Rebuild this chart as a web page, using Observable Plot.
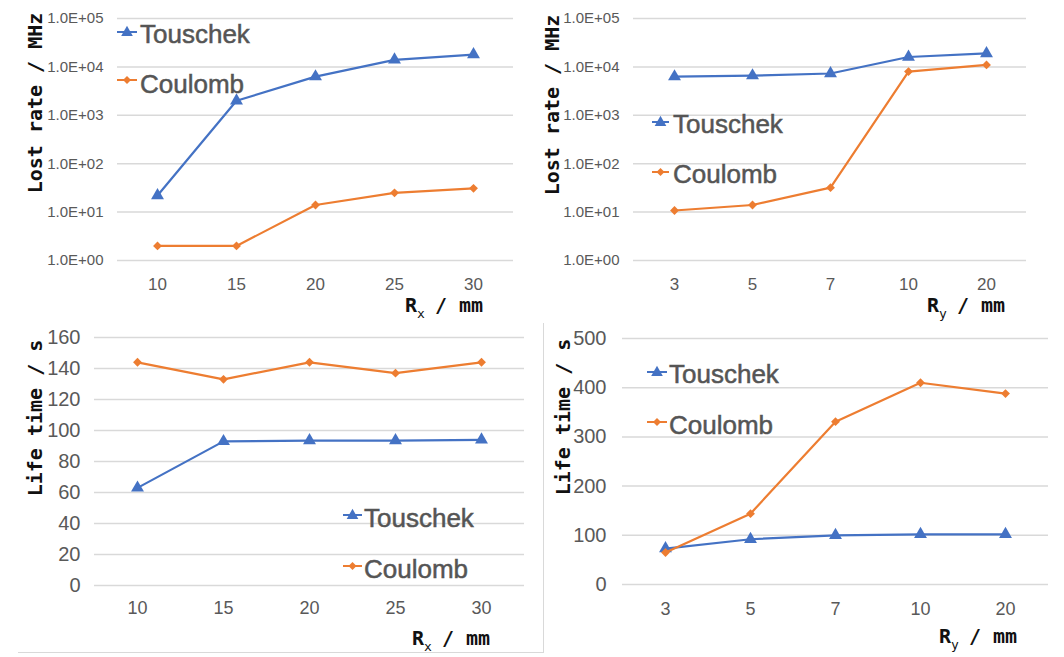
<!DOCTYPE html>
<html>
<head>
<meta charset="utf-8">
<script src="https://cdn.jsdelivr.net/npm/d3@7"></script>
<script src="https://cdn.jsdelivr.net/npm/@observablehq/plot@0.6"></script>
<style>
  html, body { margin: 0; padding: 0; background: #fff; }
  #wrap { position: relative; width: 1064px; height: 657px; overflow: hidden; background: #fff; }
  #wrap > svg { position: absolute; }
  #overlay { position: absolute; left: 0; top: 0; pointer-events: none; }
  .leg { font-family: 'Liberation Sans', Arial, Helvetica, sans-serif; font-size: 26px; fill: #555; stroke: #555; stroke-width: 0.5px; }
  .ttl { font-family: 'DejaVu Sans Mono', monospace; font-weight: bold; font-size: 20px; fill: #111; }
</style>
</head>
<body>
<div id="wrap"></div>
<script>
// ---- data ----
const rxCats = ["10", "15", "20", "25", "30"];
const ryCats = ["3", "5", "7", "10", "20"];

const lostRxTouschek = [22, 2000, 6300, 14000, 18000];
const lostRxCoulomb  = [2.0, 2.0, 14, 25, 31];
const lostRyTouschek = [6300, 6600, 7300, 16000, 19000];
const lostRyCoulomb  = [10.8, 14, 32, 8000, 11000];

const lifeRxTouschek = [63, 93, 93.5, 93.5, 94];
const lifeRxCoulomb  = [144, 133, 144, 137, 144];
const lifeRyTouschek = [73, 92, 100, 102, 102];
const lifeRyCoulomb  = [65, 144, 331, 410, 388];

const logTicks = [1, 10, 100, 1000, 10000, 100000];
const lifeRxTicks = [0, 20, 40, 60, 80, 100, 120, 140, 160];
const lifeRyTicks = [0, 100, 200, 300, 400, 500];

const seriesNames = ["Touschek", "Coulomb"];
const seriesColors = ["#4472C4", "#ED7D31"];
const seriesSymbols = ["triangle", "diamond2"];

// ---- helpers ----
const fontUI = "'Liberation Sans', Arial, Helvetica, sans-serif";
const eFmt = d => "1.0E+" + String(Math.round(Math.log10(d))).padStart(2, "0");

function rows(cats, vals) { return cats.map((c, i) => ({x: c, v: vals[i]})); }

function panel(o) {
  const marks = [
    Plot.gridY(o.ticks, {stroke: "#d9d9d9", strokeOpacity: 1, strokeWidth: 1.5}),
    Plot.axisY(o.ticks, {tickSize: 0, tickPadding: o.yPad, fontSize: o.yFont, fill: "#595959", tickFormat: o.fmt, label: null}),
    Plot.axisX({tickSize: 0, tickPadding: o.xPad, fontSize: o.xFont, fill: "#595959", label: null})
  ];
  o.series.forEach((vals, i) => {
    const data = rows(o.cats, vals);
    marks.push(Plot.line(data, {x: "x", y: "v", stroke: seriesColors[i], strokeWidth: 2.2}));
    marks.push(Plot.dot(data, {x: "x", y: "v", fill: seriesColors[i], stroke: "none", symbol: seriesSymbols[i], r: i === 0 ? 4.8 : 4}));
  });
  const svg = Plot.plot({
    width: o.width, height: o.height,
    marginLeft: o.m[0], marginRight: o.m[1], marginTop: o.m[2], marginBottom: o.m[3],
    style: {fontFamily: fontUI, background: "transparent", overflow: "visible"},
    x: {type: "point", domain: o.cats, padding: 0.5, label: null},
    y: {type: o.yType, domain: o.domain, label: null},
    marks
  });
  svg.style.left = o.left + "px";
  svg.style.top = o.top + "px";
  document.getElementById("wrap").appendChild(svg);
}

panel({left: 0, top: 0, width: 530, height: 320, m: [117, 17, 18, 60],
  cats: rxCats, series: [lostRxTouschek, lostRxCoulomb], yType: "log", domain: [1, 100000],
  ticks: logTicks, fmt: eFmt, yFont: 15, yPad: 14, xFont: 17, xPad: 17});
panel({left: 530, top: 0, width: 534, height: 320, m: [103, 38, 18, 60],
  cats: ryCats, series: [lostRyTouschek, lostRyCoulomb], yType: "log", domain: [1, 100000],
  ticks: logTicks, fmt: eFmt, yFont: 15, yPad: 14, xFont: 17, xPad: 17});
panel({left: 0, top: 320, width: 530, height: 337, m: [94, 6, 17, 72],
  cats: rxCats, series: [lifeRxTouschek, lifeRxCoulomb], yType: "linear", domain: [0, 160],
  ticks: lifeRxTicks, fmt: d => String(d), yFont: 20, yPad: 14, xFont: 18, xPad: 16});
panel({left: 530, top: 320, width: 534, height: 337, m: [92, 16, 18, 73],
  cats: ryCats, series: [lifeRyTouschek, lifeRyCoulomb], yType: "linear", domain: [0, 500],
  ticks: lifeRyTicks, fmt: d => String(d), yFont: 20, yPad: 16, xFont: 18, xPad: 18});

// ---- overlay: legends, axis titles, chart borders ----
const NS = "http://www.w3.org/2000/svg";
const ov = document.createElementNS(NS, "svg");
ov.setAttribute("id", "overlay");
ov.setAttribute("width", 1064);
ov.setAttribute("height", 657);
document.getElementById("wrap").appendChild(ov);
function el(tag, attrs, text) {
  const e = document.createElementNS(NS, tag);
  for (const k in attrs) e.setAttribute(k, attrs[k]);
  if (text != null) e.textContent = text;
  ov.appendChild(e);
  return e;
}
// borders
el("line", {x1: 18, y1: 652.5, x2: 543, y2: 652.5, stroke: "#d9d9d9", "stroke-width": 1});
el("line", {x1: 543.5, y1: 323, x2: 543.5, y2: 653, stroke: "#d9d9d9", "stroke-width": 1});

// legends: [x0, x1, glyphY, textX, baselineY] per series per panel
const legendSpots = [
  [[117, 137, 32, 140, 43], [117, 137, 80, 140, 93]],
  [[652, 669, 122, 673, 133], [652, 669, 172, 673, 183]],
  [[343, 362, 515, 364, 527], [343, 362, 566, 364, 578]],
  [[647, 667, 372, 669, 383], [647, 667, 422, 669, 434]]
];
const tri = (cx, cy, s) => `M${cx},${cy - s * 0.62}L${cx + s * 0.58},${cy + s * 0.4}L${cx - s * 0.58},${cy + s * 0.4}Z`;
const dia = (cx, cy, s) => `M${cx},${cy - s}L${cx + s},${cy}L${cx},${cy + s}L${cx - s},${cy}Z`;
legendSpots.forEach(p => p.forEach((s, i) => {
  const [x0, x1, gy, tx, by] = s;
  el("line", {x1: x0, y1: gy, x2: x1, y2: gy, stroke: seriesColors[i], "stroke-width": 2});
  const cx = (x0 + x1) / 2;
  el("path", {d: i === 0 ? tri(cx, gy, 10) : dia(cx, gy, 4), fill: seriesColors[i]});
  el("text", {x: tx, y: by, class: "leg"}, seriesNames[i]);
}));

// x axis titles
function xTitle(x, y, sub) {
  const t = el("text", {x, y, class: "ttl"});
  const a = document.createElementNS(NS, "tspan"); a.textContent = "R"; t.appendChild(a);
  const b = document.createElementNS(NS, "tspan"); b.textContent = sub;
  b.setAttribute("font-size", "13px"); b.setAttribute("font-weight", "normal"); b.setAttribute("dy", "6"); t.appendChild(b);
  const c = document.createElementNS(NS, "tspan"); c.textContent = " / mm";
  c.setAttribute("dy", "-6"); c.setAttribute("dx", "-2"); t.appendChild(c);
}
xTitle(405, 312, "x");
xTitle(927, 312, "y");
xTitle(412, 645, "x");
xTitle(939, 643, "y");

// y axis titles
function yTitle(x, y, s) {
  el("text", {class: "ttl", "text-anchor": "middle", transform: `translate(${x},${y}) rotate(-90)`}, s);
}
yTitle(42, 103, "Lost rate / MHz");
yTitle(559, 105, "Lost rate / MHz");
yTitle(42, 418, "Life time / s");
yTitle(570, 417, "Life time / s");
</script>
</body>
</html>
